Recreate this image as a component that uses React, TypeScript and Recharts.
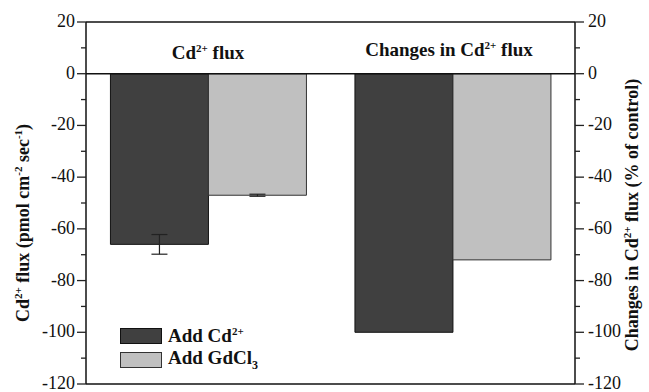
import { Bar, BarChart, ErrorBar, ReferenceLine, XAxis, YAxis } from 'recharts';

const categories = ['Cd flux', 'Changes in Cd flux'];
const addCd = [-66, -100];
const addCdErr = [3.8, 0];
const addGd = [-47, -72];
const addGdErr = [0.4, 0];

const majorTicks = [20, 0, -20, -40, -60, -80, -100, -120];
const minorTicks = [10, -10, -30, -50, -70, -90, -110];
const allTicks = [...majorTicks, ...minorTicks].sort((a, b) => a - b);

const data = categories.map((name, i) => ({
  name,
  cd: addCd[i],
  cdErr: addCdErr[i],
  gd: addGd[i],
  gdErr: addGdErr[i],
}));

const FONT = "'Liberation Serif', 'Times New Roman', Tinos, 'DejaVu Serif', serif";
const TICK_SIZE = 9;
const TICK_MARGIN = 4;

const LeftTick = ({ x, y, payload }: any) => {
  const v = payload.value as number;
  const major = v % 20 === 0;
  const ax = x + TICK_MARGIN + TICK_SIZE;
  return (
    <g>
      <line x1={ax - (major ? TICK_SIZE : 5)} x2={ax} y1={y} y2={y} stroke="#222" strokeWidth={1.3} />
      {major && (
        <text x={x + 2} y={y} dy={5} textAnchor="end" fontSize={18} style={{ fontFamily: FONT }} fill="#111">
          {v}
        </text>
      )}
    </g>
  );
};

const RightTick = ({ x, y, payload }: any) => {
  const v = payload.value as number;
  const major = v % 20 === 0;
  const ax = x - TICK_MARGIN - TICK_SIZE;
  return (
    <g>
      <line x1={ax} x2={ax + (major ? TICK_SIZE : 5)} y1={y} y2={y} stroke="#222" strokeWidth={1.3} />
      {major && (
        <text x={x} y={y} dy={5} textAnchor="start" fontSize={18} style={{ fontFamily: FONT }} fill="#111">
          {v}
        </text>
      )}
    </g>
  );
};

const LeftLabel = ({ viewBox }: any) => {
  const cx = viewBox.x + 3;
  const cy = viewBox.y + viewBox.height / 2 + 20;
  return (
    <text
      x={cx}
      y={cy}
      transform={`rotate(-90 ${cx} ${cy})`}
      textAnchor="middle"
      fontSize={18}
      fontWeight="bold"
      style={{ fontFamily: FONT }}
      fill="#111"
    >
      Cd<tspan dy={-7} fontSize={11}>2+</tspan>
      <tspan dy={7}> flux (pmol cm</tspan>
      <tspan dy={-7} fontSize={11}>-2</tspan>
      <tspan dy={7}> sec</tspan>
      <tspan dy={-7} fontSize={11}>-1</tspan>
      <tspan dy={7}>)</tspan>
    </text>
  );
};

const RightLabel = ({ viewBox }: any) => {
  const cx = viewBox.x + viewBox.width + 23;
  const cy = viewBox.y + viewBox.height / 2 + 12;
  return (
    <text
      x={cx}
      y={cy}
      transform={`rotate(-90 ${cx} ${cy})`}
      textAnchor="middle"
      fontSize={18}
      fontWeight="bold"
      style={{ fontFamily: FONT }}
      fill="#111"
    >
      Changes in Cd<tspan dy={-7} fontSize={11}>2+</tspan>
      <tspan dy={7}> flux (% of control)</tspan>
    </text>
  );
};

const legendItems = [
  { label: 'Add Cd', sup: '2+', sub: '', fill: '#404040', stroke: '#111' },
  { label: 'Add GdCl', sup: '', sub: '3', fill: '#c0c0c0', stroke: '#333' },
];

const titleStyle: React.CSSProperties = {
  position: 'absolute',
  fontFamily: FONT,
  fontWeight: 'bold',
  fontSize: 19,
  color: '#111',
  transform: 'translateX(-50%)',
  whiteSpace: 'nowrap',
  lineHeight: '20px',
};

export default function App() {
  return (
    <div style={{ position: 'absolute', left: 0, top: 0, width: 649, height: 392, background: '#fff', fontFamily: FONT }}>
      <BarChart
        width={649}
        height={392}
        data={data}
        margin={{ top: 22, right: 34, left: 26, bottom: 7 }}
        barCategoryGap="10%"
        barGap={0}
      >
        <XAxis dataKey="name" height={1} tick={false} tickLine={false} axisLine={{ stroke: '#111', strokeWidth: 1.5 }} />
        <YAxis
          yAxisId="left"
          width={60}
          domain={[-120, 20]}
          ticks={allTicks}
          interval={0}
          allowDataOverflow
          tickSize={TICK_SIZE}
          tickMargin={TICK_MARGIN}
          tickLine={false}
          tick={<LeftTick />}
          axisLine={{ stroke: '#111', strokeWidth: 1.5 }}
          label={<LeftLabel />}
        />
        <YAxis
          yAxisId="right"
          orientation="right"
          width={40}
          domain={[-120, 20]}
          ticks={allTicks}
          interval={0}
          allowDataOverflow
          tickSize={TICK_SIZE}
          tickMargin={TICK_MARGIN}
          tickLine={false}
          tick={<RightTick />}
          axisLine={{ stroke: '#111', strokeWidth: 1.5 }}
          label={<RightLabel />}
        />
        <ReferenceLine yAxisId="left" y={20} stroke="#111" strokeWidth={1.5} />
        <Bar yAxisId="left" dataKey="cd" fill="#404040" stroke="#111" strokeWidth={1} isAnimationActive={false}>
          <ErrorBar dataKey="cdErr" width={8} stroke="#222" strokeWidth={1.2} />
        </Bar>
        <Bar yAxisId="left" dataKey="gd" fill="#c0c0c0" stroke="#333" strokeWidth={1} isAnimationActive={false}>
          <ErrorBar dataKey="gdErr" width={8} stroke="#222" strokeWidth={1.2} />
        </Bar>
        <ReferenceLine yAxisId="left" y={0} stroke="#111" strokeWidth={1.5} />
      </BarChart>
      <div style={{ position: 'absolute', left: 120, top: 324, fontWeight: 'bold', fontSize: 19, color: '#111' }}>
        {legendItems.map((it) => (
          <div key={it.label} style={{ display: 'flex', alignItems: 'center', height: 24 }}>
            <span style={{ width: 40, height: 14, background: it.fill, border: `1px solid ${it.stroke}`, marginRight: 6 }} />
            <span>
              {it.label}
              {it.sup && <sup style={{ fontSize: 11 }}>{it.sup}</sup>}
              {it.sub && <sub style={{ fontSize: 12 }}>{it.sub}</sub>}
            </span>
          </div>
        ))}
      </div>
      <div style={{ ...titleStyle, left: 208, top: 38 }}>
        Cd<sup style={{ fontSize: 11 }}>2+</sup> flux
      </div>
      <div style={{ ...titleStyle, left: 449, top: 35 }}>
        Changes in Cd<sup style={{ fontSize: 11 }}>2+</sup> flux
      </div>
    </div>
  );
}
